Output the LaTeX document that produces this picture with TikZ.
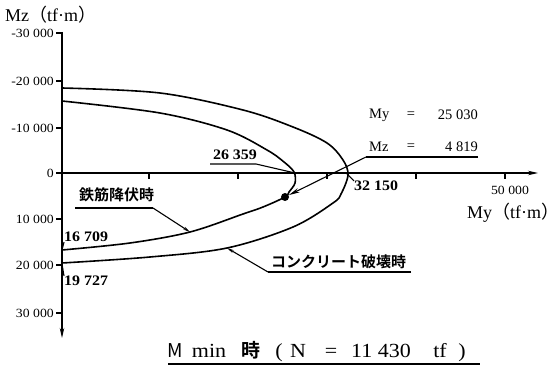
\documentclass[tikz,border=0pt]{standalone}
\usepackage{fontspec}
\setmainfont{Liberation Serif}
\newfontfamily\cjk{Noto Sans CJK JP}
\newfontfamily\cjkb{Noto Sans CJK JP Bold}
\newfontfamily\widefont[FakeStretch=1.1]{Liberation Serif}
\newfontfamily\widebold[FakeStretch=1.1]{Liberation Serif Bold}
\usetikzlibrary{arrows.meta}
\tikzset{
  axisline/.style={line width=1.4pt},
  curveline/.style={line width=1.6pt, line join=round},
  leader/.style={line width=1.1pt},
  ticklab/.style={inner sep=0pt, font=\widefont\fontsize{12.5}{12.5}\selectfont},
  vallab/.style={inner sep=0pt, font=\widebold\fontsize{14.5}{14.5}\selectfont},
  eqlab/.style={inner sep=0pt, font=\fontsize{14.5}{14.5}\selectfont},
  unitlab/.style={inner sep=0pt, font=\fontsize{18}{18}\selectfont},
  jlab/.style={inner sep=0pt, font=\cjkb\fontsize{15}{15}\selectfont},
  titlab/.style={inner sep=0pt, anchor=base, font=\widefont\fontsize{20}{20}\selectfont},
  tip/.style={-{Stealth[length=7pt,width=3pt]}},
}
\begin{document}
\begin{tikzpicture}[x=1pt,y=-1pt]
\useasboundingbox (0,0) rectangle (559,374);
% axes
\coordinate (xs) at (57,173);
\coordinate (xe) at (538,173);
\coordinate (ys) at (62,32);
\coordinate (ye) at (62,338);
\draw[axisline,-{Stealth[length=10pt,width=4.5pt]}] (xs) -- (xe);
\draw[axisline,-{Stealth[length=10pt,width=4.5pt]}] (ys) -- (ye);
% y ticks
\foreach \yy/\lab in {33/-30 000,81/-20 000,128/-10 000,173/0,219/10 000,265/20 000,313/30 000}{
  \draw[axisline] (56,\yy) -- (62,\yy);
  \node[ticklab,anchor=east] (yl\yy) at (54,\yy) {\lab};
}
% x ticks
\foreach \xx in {149,238,327,416,505}{
  \draw[axisline] (\xx,173) -- (\xx,179);
}
\node[ticklab] (x50) at (510,190) {50 000};
\node[unitlab,anchor=west] (mzunit) at (5,15) {Mz{\cjk （}tf·m{\cjk ）}};
\node[unitlab,anchor=west] (myunit) at (467,213) {My{\cjk （}tf·m{\cjk ）}};

% outer curve: concrete failure
\draw[curveline] plot[smooth, tension=0.55] coordinates {
 (62,88) (160,93) (243,110) (293,127) (327,143)
 (343,160) (348,175) (341,194) (333,203)
 (293,227) (227,248) (150,257) (62,263)};
% inner curve: rebar yield
\draw[curveline] plot[smooth, tension=0.55] coordinates {
 (62,101) (160,113) (227,130) (267,150) (284,162)
 (294,172) (295,183) (289,192) (285,197) (263,207) (243,214)
 (190,232) (130,243) (62,250)};

% named points on the curves
\coordinate (innose) at (295,173);
\coordinate (outnose) at (347,174);
\coordinate (inlow) at (190,232);
\coordinate (outlow) at (227,248);
\coordinate (p16) at (62,250);
\coordinate (p19) at (62,264);
\node[circle, fill=black, inner sep=0pt, minimum size=8pt] (blob) at (285,197) {};

% 26 359
\node[vallab] (l26) at (235,155) {26 359};
\coordinate (u26a) at (210,164);
\coordinate (u26b) at (256,164);
\draw[leader] (u26a) -- (u26b) -- (innose);
% 32 150
\node[vallab,anchor=west] (l32) at (354,186) {32 150};
\draw[leader] (outnose) -- (l32.north west);
% 16 709, 19 727
\node[vallab,anchor=west] (l16) at (64,237) {16 709};
\draw[leader] (p16) -- (l16.south west);
\node[vallab,anchor=west] (l19) at (64,281) {19 727};
\draw[leader] (p19) -- (l19.north west);

% My / Mz values
\node[eqlab,anchor=west] (myname) at (369,115) {My};
\node[eqlab] (myeq) at (411,115) {=};
\node[eqlab,anchor=east] (myval) at (478,115) {25 030};
\node[eqlab,anchor=west] (mzname) at (369,147) {Mz};
\node[eqlab] (mzeq) at (411,147) {=};
\node[eqlab,anchor=east] (mzval) at (478,147) {4 819};
\coordinate (umza) at (366,157);
\coordinate (umzb) at (478,157);
\draw[leader] (umzb) -- (umza);
\draw[leader,-{Stealth[length=11pt,width=4.5pt]}] (umza) -- (blob);

% Japanese labels
\node[jlab,anchor=west] (jrebar) at (79,195) {鉄筋降伏時};
\coordinate (urea) at (75,208);
\coordinate (ureb) at (153,208);
\draw[leader] (urea) -- (ureb);
\draw[leader,tip] (ureb) -- (inlow);
\node[jlab,anchor=west] (jconc) at (271,262) {コンクリート破壊時};
\coordinate (ucoa) at (268,272);
\coordinate (ucob) at (411,272);
\draw[leader] (ucob) -- (ucoa);
\draw[leader,tip] (ucoa) -- (outlow);

% title
\node[titlab,font=\cjk\fontsize{19}{19}\selectfont] (tM) at (175,357) {M};
\node[titlab] (tmin) at (209,357) {min};
\node[titlab,font=\cjkb\fontsize{19}{19}\selectfont] (tji) at (251,357) {時};
\node[titlab] (tlp) at (279,357) {(};
\node[titlab] (tN) at (298,357) {N};
\node[titlab] (teq) at (331,357) {=};
\node[titlab] (tval) at (381,357) {11 430};
\node[titlab] (ttf) at (440,357) {tf};
\node[titlab] (trp) at (462,357) {)};
\coordinate (ula) at (168,364);
\coordinate (ulb) at (480,364);
\draw[leader] (ula) -- (ulb);
\end{tikzpicture}
\end{document}
